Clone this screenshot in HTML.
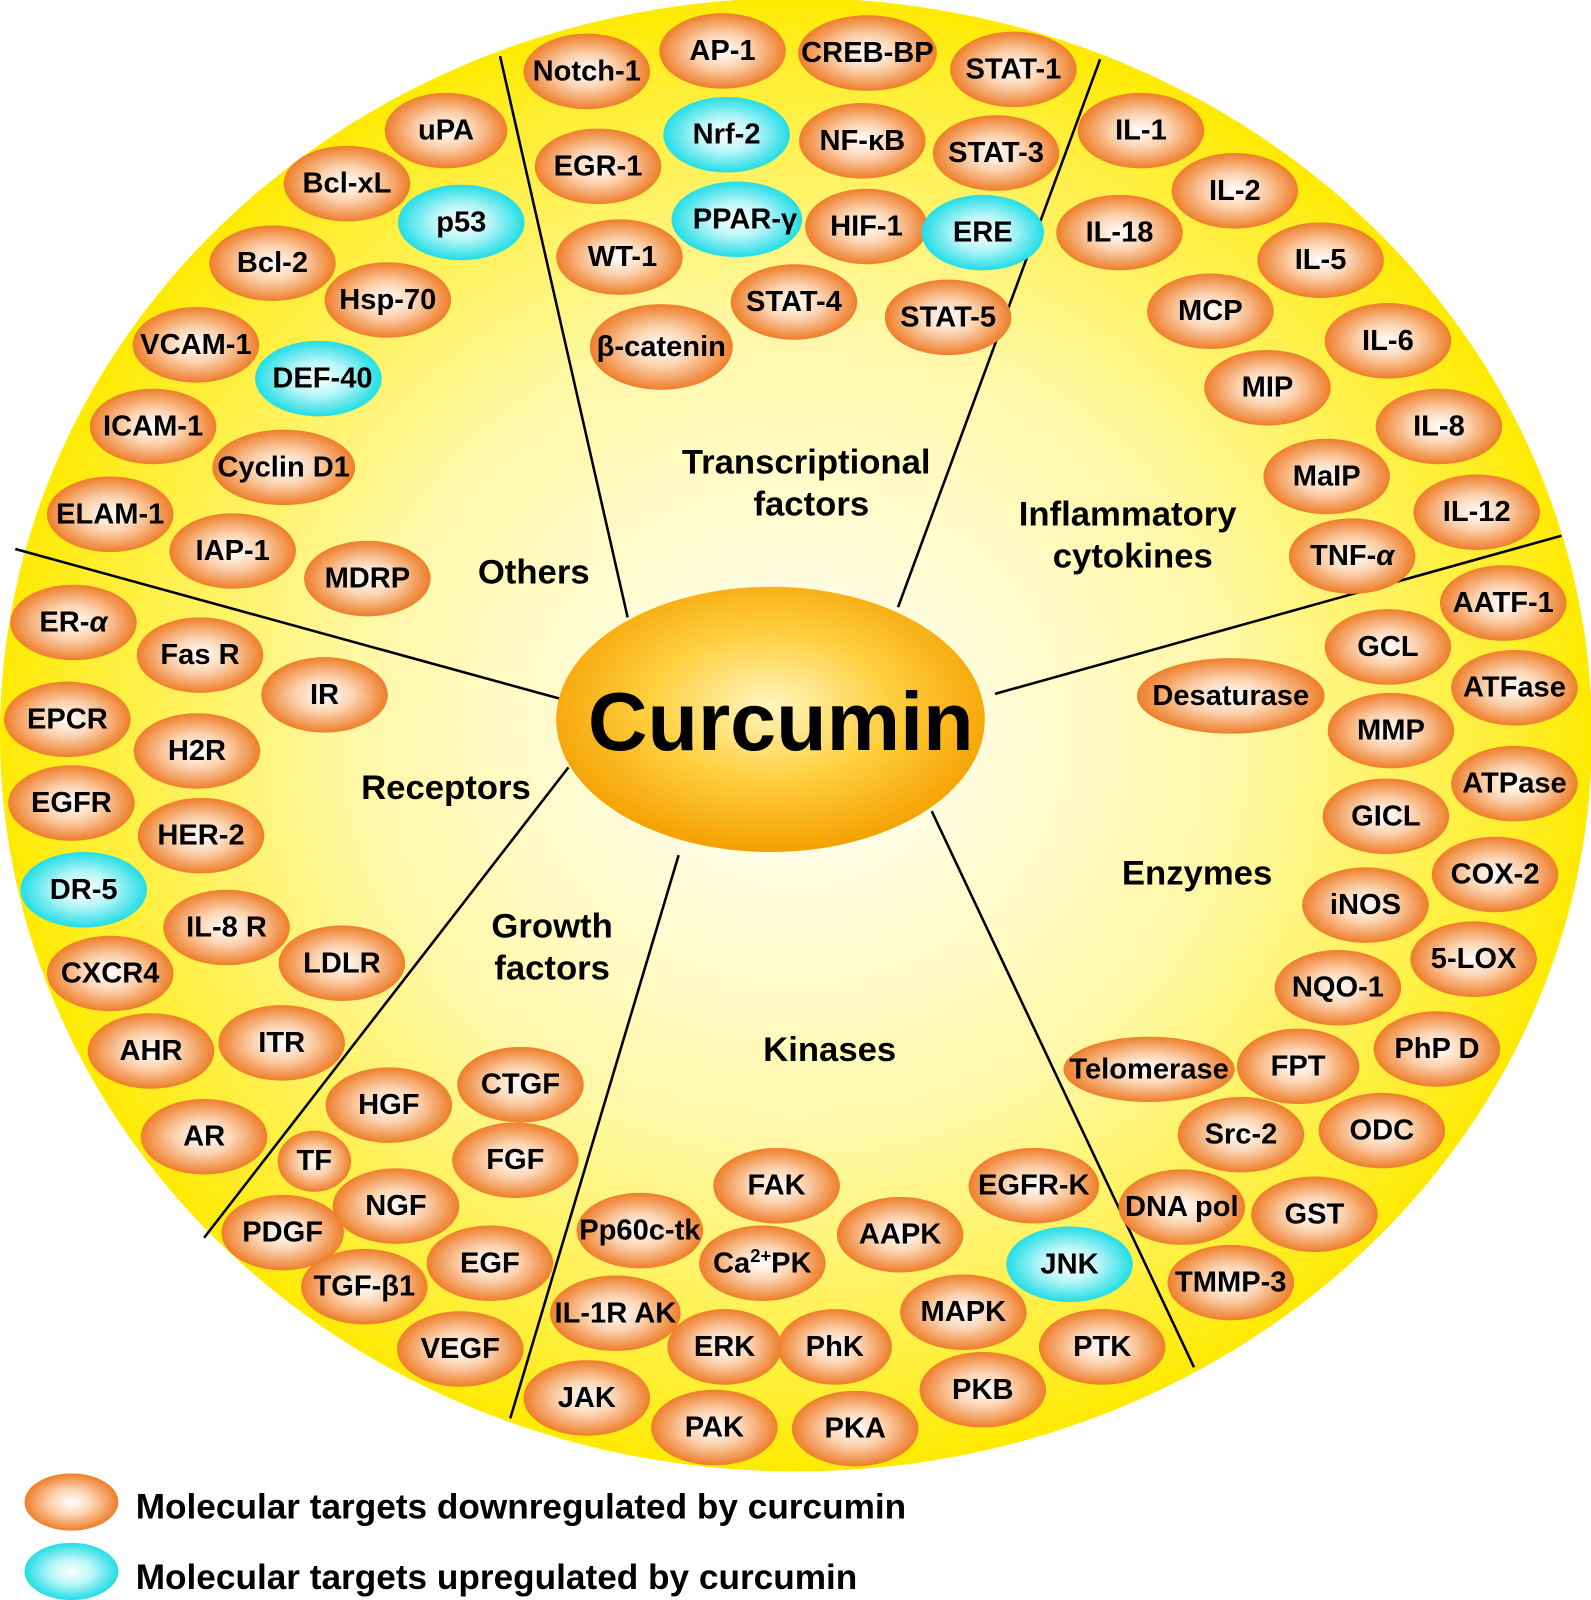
<!DOCTYPE html>
<html><head><meta charset="utf-8"><style>
html,body{margin:0;padding:0;background:#fff;}
svg{display:block;}
text{font-family:"Liberation Sans",Arial,sans-serif;font-weight:bold;fill:#000;}
.n text{font-size:28.5px;text-anchor:middle;dominant-baseline:central;}
.c{font-size:34px;text-anchor:middle;}
</style></head><body>
<svg width="1591" height="1600" viewBox="0 0 1559 1568" preserveAspectRatio="none" xmlns="http://www.w3.org/2000/svg">
<defs>
<radialGradient id="bg" cx="0.5" cy="0.5" r="0.5">
<stop offset="0" stop-color="#ffffff"/><stop offset="0.55" stop-color="#fff8a8"/><stop offset="0.9" stop-color="#ffee30"/><stop offset="1" stop-color="#ffea00"/></radialGradient>
<radialGradient id="og" cx="0.5" cy="0.5" r="0.5">
<stop offset="0" stop-color="#ffffff"/><stop offset="0.45" stop-color="#fcd3b0"/><stop offset="1" stop-color="#ee7e2a"/></radialGradient>
<radialGradient id="cg" cx="0.5" cy="0.5" r="0.5">
<stop offset="0" stop-color="#ffffff"/><stop offset="0.45" stop-color="#b8f6f8"/><stop offset="1" stop-color="#22dde6"/></radialGradient>
<radialGradient id="cu" cx="0.5" cy="0.45" r="0.55">
<stop offset="0" stop-color="#fff6c0"/><stop offset="0.5" stop-color="#ffd040"/><stop offset="1" stop-color="#f5a000"/></radialGradient>
</defs>
<ellipse cx="780" cy="720" rx="780" ry="722" fill="url(#bg)"/>
<g stroke="#000" stroke-width="2.5">
<line x1="490" y1="55" x2="615" y2="605"/>
<line x1="1078" y1="58" x2="880" y2="595"/>
<line x1="1530" y1="525" x2="975" y2="680"/>
<line x1="15" y1="538" x2="557" y2="687"/>
<line x1="557" y1="752" x2="200" y2="1213"/>
<line x1="665" y1="838" x2="500" y2="1390"/>
<line x1="913" y1="795" x2="1170" y2="1340"/>
</g>
<ellipse cx="755" cy="705" rx="210" ry="130" fill="url(#cu)"/>
<text x="765" y="735" style="font-size:81px;text-anchor:middle">Curcumin</text>

<g class="n">
<ellipse cx="437" cy="128" rx="60" ry="37" fill="url(#og)"/><text x="437" y="128">uPA</text>
<ellipse cx="340" cy="180" rx="62" ry="37" fill="url(#og)"/><text x="340" y="180">Bcl-xL</text>
<ellipse cx="452" cy="218" rx="62" ry="37" fill="url(#cg)"/><text x="452" y="218">p53</text>
<ellipse cx="267" cy="258" rx="62" ry="37" fill="url(#og)"/><text x="267" y="258">Bcl-2</text>
<ellipse cx="380" cy="294" rx="62" ry="37" fill="url(#og)"/><text x="380" y="294">Hsp-70</text>
<ellipse cx="192" cy="338" rx="62" ry="37" fill="url(#og)"/><text x="192" y="338">VCAM-1</text>
<ellipse cx="312" cy="371" rx="62" ry="37" fill="url(#cg)"/><text x="316" y="371">DEF-40</text>
<ellipse cx="150" cy="418" rx="62" ry="37" fill="url(#og)"/><text x="150" y="418">ICAM-1</text>
<ellipse cx="278" cy="458" rx="70" ry="37" fill="url(#og)"/><text x="278" y="458">Cyclin D1</text>
<ellipse cx="108" cy="504" rx="62" ry="37" fill="url(#og)"/><text x="108" y="504">ELAM-1</text>
<ellipse cx="228" cy="540" rx="62" ry="37" fill="url(#og)"/><text x="228" y="540">IAP-1</text>
<ellipse cx="360" cy="567" rx="62" ry="37" fill="url(#og)"/><text x="360" y="567">MDRP</text>
<ellipse cx="575" cy="70" rx="62" ry="37" fill="url(#og)"/><text x="575" y="70">Notch-1</text>
<ellipse cx="708" cy="50" rx="62" ry="37" fill="url(#og)"/><text x="708" y="50">AP-1</text>
<ellipse cx="850" cy="52" rx="68" ry="37" fill="url(#og)"/><text x="850" y="52">CREB-BP</text>
<ellipse cx="993" cy="68" rx="62" ry="37" fill="url(#og)"/><text x="993" y="68">STAT-1</text>
<ellipse cx="712" cy="132" rx="62" ry="37" fill="url(#cg)"/><text x="712" y="132">Nrf-2</text>
<ellipse cx="845" cy="138" rx="62" ry="37" fill="url(#og)"/><text x="845" y="138">NF-κB</text>
<ellipse cx="976" cy="150" rx="62" ry="37" fill="url(#og)"/><text x="976" y="150">STAT-3</text>
<ellipse cx="586" cy="163" rx="62" ry="37" fill="url(#og)"/><text x="586" y="163">EGR-1</text>
<ellipse cx="722" cy="215" rx="64" ry="37" fill="url(#cg)"/><text x="730" y="215">PPAR-γ</text>
<ellipse cx="849" cy="222" rx="60" ry="37" fill="url(#og)"/><text x="849" y="222">HIF-1</text>
<ellipse cx="963" cy="228" rx="60" ry="37" fill="url(#cg)"/><text x="963" y="228">ERE</text>
<ellipse cx="607" cy="252" rx="62" ry="37" fill="url(#og)"/><text x="610" y="252">WT-1</text>
<ellipse cx="778" cy="296" rx="62" ry="37" fill="url(#og)"/><text x="778" y="296">STAT-4</text>
<ellipse cx="929" cy="311" rx="62" ry="37" fill="url(#og)"/><text x="929" y="311">STAT-5</text>
<ellipse cx="648" cy="340" rx="70" ry="42" fill="url(#og)"/><text x="648" y="340">β-catenin</text>
<ellipse cx="1118" cy="128" rx="62" ry="37" fill="url(#og)"/><text x="1118" y="128">IL-1</text>
<ellipse cx="1210" cy="187" rx="62" ry="37" fill="url(#og)"/><text x="1210" y="187">IL-2</text>
<ellipse cx="1097" cy="228" rx="62" ry="37" fill="url(#og)"/><text x="1097" y="228">IL-18</text>
<ellipse cx="1294" cy="255" rx="62" ry="37" fill="url(#og)"/><text x="1294" y="255">IL-5</text>
<ellipse cx="1186" cy="305" rx="62" ry="37" fill="url(#og)"/><text x="1186" y="305">MCP</text>
<ellipse cx="1360" cy="334" rx="62" ry="37" fill="url(#og)"/><text x="1360" y="334">IL-6</text>
<ellipse cx="1242" cy="380" rx="62" ry="37" fill="url(#og)"/><text x="1242" y="380">MIP</text>
<ellipse cx="1410" cy="418" rx="62" ry="37" fill="url(#og)"/><text x="1410" y="418">IL-8</text>
<ellipse cx="1300" cy="467" rx="62" ry="37" fill="url(#og)"/><text x="1300" y="467">MaIP</text>
<ellipse cx="1447" cy="502" rx="62" ry="37" fill="url(#og)"/><text x="1447" y="502">IL-12</text>
<ellipse cx="1325" cy="545" rx="62" ry="37" fill="url(#og)"/><text x="1325" y="545">TNF-<tspan font-style="italic">α</tspan></text>
<ellipse cx="1473" cy="591" rx="62" ry="37" fill="url(#og)"/><text x="1473" y="591">AATF-1</text>
<ellipse cx="1360" cy="634" rx="62" ry="37" fill="url(#og)"/><text x="1360" y="634">GCL</text>
<ellipse cx="1206" cy="682" rx="92" ry="37" fill="url(#og)"/><text x="1206" y="682">Desaturase</text>
<ellipse cx="1484" cy="674" rx="62" ry="37" fill="url(#og)"/><text x="1484" y="674">ATFase</text>
<ellipse cx="1363" cy="716" rx="62" ry="37" fill="url(#og)"/><text x="1363" y="716">MMP</text>
<ellipse cx="1484" cy="768" rx="62" ry="37" fill="url(#og)"/><text x="1484" y="768">ATPase</text>
<ellipse cx="1358" cy="800" rx="62" ry="37" fill="url(#og)"/><text x="1358" y="800">GICL</text>
<ellipse cx="1465" cy="857" rx="62" ry="37" fill="url(#og)"/><text x="1465" y="857">COX-2</text>
<ellipse cx="1338" cy="887" rx="62" ry="37" fill="url(#og)"/><text x="1338" y="887">iNOS</text>
<ellipse cx="1444" cy="940" rx="62" ry="37" fill="url(#og)"/><text x="1444" y="940">5-LOX</text>
<ellipse cx="1311" cy="968" rx="62" ry="37" fill="url(#og)"/><text x="1311" y="968">NQO-1</text>
<ellipse cx="1408" cy="1028" rx="62" ry="37" fill="url(#og)"/><text x="1408" y="1028">PhP D</text>
<ellipse cx="1272" cy="1045" rx="60" ry="37" fill="url(#og)"/><text x="1272" y="1045">FPT</text>
<ellipse cx="1126" cy="1048" rx="84" ry="32" fill="url(#og)"/><text x="1126" y="1048">Telomerase</text>
<ellipse cx="1354" cy="1108" rx="62" ry="37" fill="url(#og)"/><text x="1354" y="1108">ODC</text>
<ellipse cx="1216" cy="1112" rx="62" ry="37" fill="url(#og)"/><text x="1216" y="1112">Src-2</text>
<ellipse cx="1158" cy="1183" rx="62" ry="37" fill="url(#og)"/><text x="1158" y="1183">DNA pol</text>
<ellipse cx="1288" cy="1190" rx="62" ry="37" fill="url(#og)"/><text x="1288" y="1190">GST</text>
<ellipse cx="1206" cy="1257" rx="62" ry="37" fill="url(#og)"/><text x="1206" y="1257">TMMP-3</text>
<ellipse cx="761" cy="1162" rx="62" ry="37" fill="url(#og)"/><text x="761" y="1162">FAK</text>
<ellipse cx="1013" cy="1162" rx="64" ry="37" fill="url(#og)"/><text x="1013" y="1162">EGFR-K</text>
<ellipse cx="627" cy="1206" rx="62" ry="37" fill="url(#og)"/><text x="627" y="1206">Pp60c-tk</text>
<ellipse cx="882" cy="1210" rx="62" ry="37" fill="url(#og)"/><text x="882" y="1210">AAPK</text>
<ellipse cx="747" cy="1238" rx="62" ry="37" fill="url(#og)"/><text x="747" y="1238">Ca<tspan font-size="18" dy="-8">2+</tspan><tspan dy="8">PK</tspan></text>
<ellipse cx="1048" cy="1239" rx="62" ry="37" fill="url(#cg)"/><text x="1048" y="1239">JNK</text>
<ellipse cx="603" cy="1287" rx="64" ry="37" fill="url(#og)"/><text x="603" y="1287">IL-1R AK</text>
<ellipse cx="944" cy="1286" rx="62" ry="37" fill="url(#og)"/><text x="944" y="1286">MAPK</text>
<ellipse cx="710" cy="1320" rx="56" ry="37" fill="url(#og)"/><text x="710" y="1320">ERK</text>
<ellipse cx="818" cy="1320" rx="56" ry="37" fill="url(#og)"/><text x="818" y="1320">PhK</text>
<ellipse cx="1080" cy="1320" rx="62" ry="37" fill="url(#og)"/><text x="1080" y="1320">PTK</text>
<ellipse cx="575" cy="1370" rx="62" ry="37" fill="url(#og)"/><text x="575" y="1370">JAK</text>
<ellipse cx="963" cy="1362" rx="62" ry="37" fill="url(#og)"/><text x="963" y="1362">PKB</text>
<ellipse cx="700" cy="1399" rx="62" ry="37" fill="url(#og)"/><text x="700" y="1399">PAK</text>
<ellipse cx="838" cy="1400" rx="62" ry="37" fill="url(#og)"/><text x="838" y="1400">PKA</text>
<ellipse cx="510" cy="1063" rx="62" ry="37" fill="url(#og)"/><text x="510" y="1063">CTGF</text>
<ellipse cx="381" cy="1083" rx="62" ry="37" fill="url(#og)"/><text x="381" y="1083">HGF</text>
<ellipse cx="505" cy="1137" rx="62" ry="37" fill="url(#og)"/><text x="505" y="1137">FGF</text>
<ellipse cx="308" cy="1138" rx="36" ry="30" fill="url(#og)"/><text x="308" y="1138">TF</text>
<ellipse cx="388" cy="1182" rx="62" ry="37" fill="url(#og)"/><text x="388" y="1182">NGF</text>
<ellipse cx="277" cy="1208" rx="60" ry="37" fill="url(#og)"/><text x="277" y="1208">PDGF</text>
<ellipse cx="480" cy="1238" rx="62" ry="37" fill="url(#og)"/><text x="480" y="1238">EGF</text>
<ellipse cx="357" cy="1261" rx="62" ry="37" fill="url(#og)"/><text x="357" y="1261">TGF-β1</text>
<ellipse cx="451" cy="1322" rx="62" ry="37" fill="url(#og)"/><text x="451" y="1322">VEGF</text>
<ellipse cx="72" cy="610" rx="62" ry="37" fill="url(#og)"/><text x="72" y="610">ER-<tspan font-style="italic">α</tspan></text>
<ellipse cx="196" cy="642" rx="62" ry="37" fill="url(#og)"/><text x="196" y="642">Fas R</text>
<ellipse cx="318" cy="681" rx="62" ry="37" fill="url(#og)"/><text x="318" y="681">IR</text>
<ellipse cx="66" cy="705" rx="62" ry="37" fill="url(#og)"/><text x="66" y="705">EPCR</text>
<ellipse cx="193" cy="736" rx="62" ry="37" fill="url(#og)"/><text x="193" y="736">H2R</text>
<ellipse cx="70" cy="787" rx="62" ry="37" fill="url(#og)"/><text x="70" y="787">EGFR</text>
<ellipse cx="197" cy="819" rx="62" ry="37" fill="url(#og)"/><text x="197" y="819">HER-2</text>
<ellipse cx="82" cy="872" rx="62" ry="37" fill="url(#cg)"/><text x="82" y="872">DR-5</text>
<ellipse cx="222" cy="909" rx="62" ry="37" fill="url(#og)"/><text x="222" y="909">IL-8 R</text>
<ellipse cx="335" cy="944" rx="62" ry="37" fill="url(#og)"/><text x="335" y="944">LDLR</text>
<ellipse cx="108" cy="954" rx="62" ry="37" fill="url(#og)"/><text x="108" y="954">CXCR4</text>
<ellipse cx="148" cy="1030" rx="62" ry="37" fill="url(#og)"/><text x="148" y="1030">AHR</text>
<ellipse cx="276" cy="1022" rx="62" ry="37" fill="url(#og)"/><text x="276" y="1022">ITR</text>
<ellipse cx="200" cy="1114" rx="62" ry="37" fill="url(#og)"/><text x="200" y="1114">AR</text>
</g>

<text class="c" x="790" y="464">Transcriptional</text>
<text class="c" x="795" y="505">factors</text>
<text class="c" x="523" y="572">Others</text>
<text class="c" x="1105" y="515">Inflammatory</text>
<text class="c" x="1110" y="556">cytokines</text>
<text class="c" x="437" y="783">Receptors</text>
<text class="c" x="1173" y="867">Enzymes</text>
<text class="c" x="541" y="919">Growth</text>
<text class="c" x="541" y="960">factors</text>
<text class="c" x="813" y="1040">Kinases</text>

<ellipse cx="70" cy="1472" rx="46" ry="28" fill="url(#og)"/>
<text x="133" y="1488" style="font-size:34.5px">Molecular targets downregulated by curcumin</text>
<ellipse cx="70" cy="1540" rx="46" ry="28" fill="url(#cg)"/>
<text x="133" y="1557" style="font-size:34.5px">Molecular targets upregulated by curcumin</text>
</svg>
</body></html>
